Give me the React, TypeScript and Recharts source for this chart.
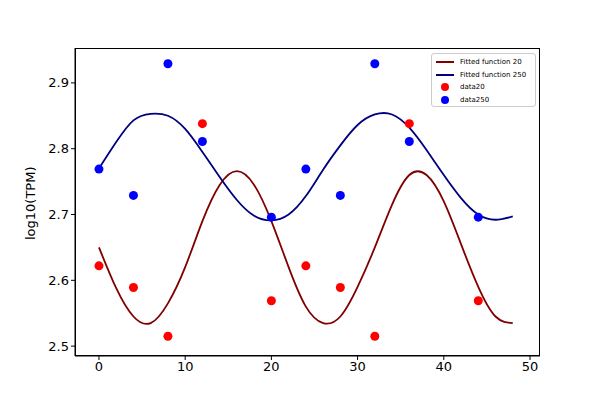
import React from 'react'
import { ComposedChart, Line, Scatter, XAxis, YAxis } from 'recharts'

const hours = [0, 4, 8, 12, 20, 24, 28, 32, 36, 44]
const data20 = [2.622, 2.589, 2.515, 2.838, 2.569, 2.622, 2.589, 2.515, 2.838, 2.569]
const data250 = [2.769, 2.729, 2.929, 2.811, 2.696, 2.769, 2.729, 2.929, 2.811, 2.696]

const fitX = [0, 2, 4, 6, 8, 10, 12, 14, 16, 18, 20, 22, 24, 26, 28, 30, 32, 34, 36, 38, 40, 42, 44, 46, 48]
const fit20 = [2.65, 2.588, 2.545, 2.535, 2.565, 2.62, 2.69, 2.745, 2.766, 2.745, 2.69, 2.62, 2.56, 2.535, 2.545, 2.59, 2.65, 2.715, 2.76, 2.76, 2.72, 2.655, 2.59, 2.545, 2.535]
const fit250 = [2.77, 2.81, 2.843, 2.853, 2.85, 2.83, 2.795, 2.757, 2.722, 2.698, 2.691, 2.7, 2.728, 2.768, 2.805, 2.836, 2.852, 2.852, 2.832, 2.798, 2.76, 2.725, 2.7, 2.692, 2.697]

const xTicks = [0, 10, 20, 30, 40, 50]
const yTicks = [2.5, 2.6, 2.7, 2.8, 2.9]

const curve20 = fitX.map((x, i) => ({ x, y: fit20[i] }))
const curve250 = fitX.map((x, i) => ({ x, y: fit250[i] }))
const pts20 = hours.map((x, i) => ({ x, y: data20[i] }))
const pts250 = hours.map((x, i) => ({ x, y: data250[i] }))

const tick = { fill: '#000', fontSize: 13, fontFamily: 'DejaVu Sans' }

const legendItems = [
  { label: 'Fitted function 20', color: '#800000', line: true },
  { label: 'Fitted function 250', color: '#00007f', line: true },
  { label: 'data20', color: '#ff0000', line: false },
  { label: 'data250', color: '#0000ff', line: false },
]

const Dot = (props: any) => <circle cx={props.cx} cy={props.cy} r={4.5} fill={props.fill} />

export default function App() {
  return (
    <div style={{ position: 'absolute', left: 0, top: 0, width: 600, height: 400, background: '#fff', fontFamily: 'DejaVu Sans' }}>
      <ComposedChart width={600} height={400} margin={{ top: 48, right: 60, bottom: 0, left: 0 }}>
        <XAxis type="number" dataKey="x" domain={[-2.78, 51.16]} ticks={xTicks} allowDataOverflow
          height={44} tick={tick} stroke="#000" tickLine={{ stroke: '#000' }} tickSize={4} />
        <YAxis type="number" dataKey="y" domain={[2.485, 2.953]} ticks={yTicks} allowDataOverflow
          width={75} tick={tick} stroke="#000" tickSize={4}
          tickFormatter={(v: number) => v.toFixed(1)}
          label={{ value: 'log10(TPM)', angle: -90, position: 'insideLeft', offset: 30, dy: 38, style: { fill: '#000', fontSize: 13 } }} />
        <Line data={curve20} dataKey="y" type="natural" stroke="#800000" strokeWidth={1.8} dot={false} isAnimationActive={false} />
        <Line data={curve250} dataKey="y" type="natural" stroke="#00007f" strokeWidth={1.8} dot={false} isAnimationActive={false} />
        <Scatter data={pts20} dataKey="y" fill="#ff0000" shape={<Dot />} isAnimationActive={false} />
        <Scatter data={pts250} dataKey="y" fill="#0000ff" shape={<Dot />} isAnimationActive={false} />
      </ComposedChart>
      <div style={{ position: 'absolute', left: 75, top: 48, width: 465, height: 308, border: '1px solid #000', boxSizing: 'border-box', pointerEvents: 'none' }} />
      <div style={{ position: 'absolute', left: 431, top: 53, width: 105, height: 54, border: '1px solid #ccc', borderRadius: 3, background: 'rgba(255,255,255,0.8)', boxSizing: 'border-box', padding: '2px 4px', fontSize: 7, whiteSpace: 'nowrap' }}>
        {legendItems.map(it => (
          <div key={it.label} style={{ display: 'flex', alignItems: 'center', height: 12.5 }}>
            <span style={{ width: 18, display: 'inline-flex', justifyContent: 'center', marginRight: 6 }}>
              {it.line
                ? <span style={{ width: 18, height: 2, background: it.color }} />
                : <span style={{ width: 8, height: 8, borderRadius: 4, background: it.color }} />}
            </span>
            {it.label}
          </div>
        ))}
      </div>
    </div>
  )
}
